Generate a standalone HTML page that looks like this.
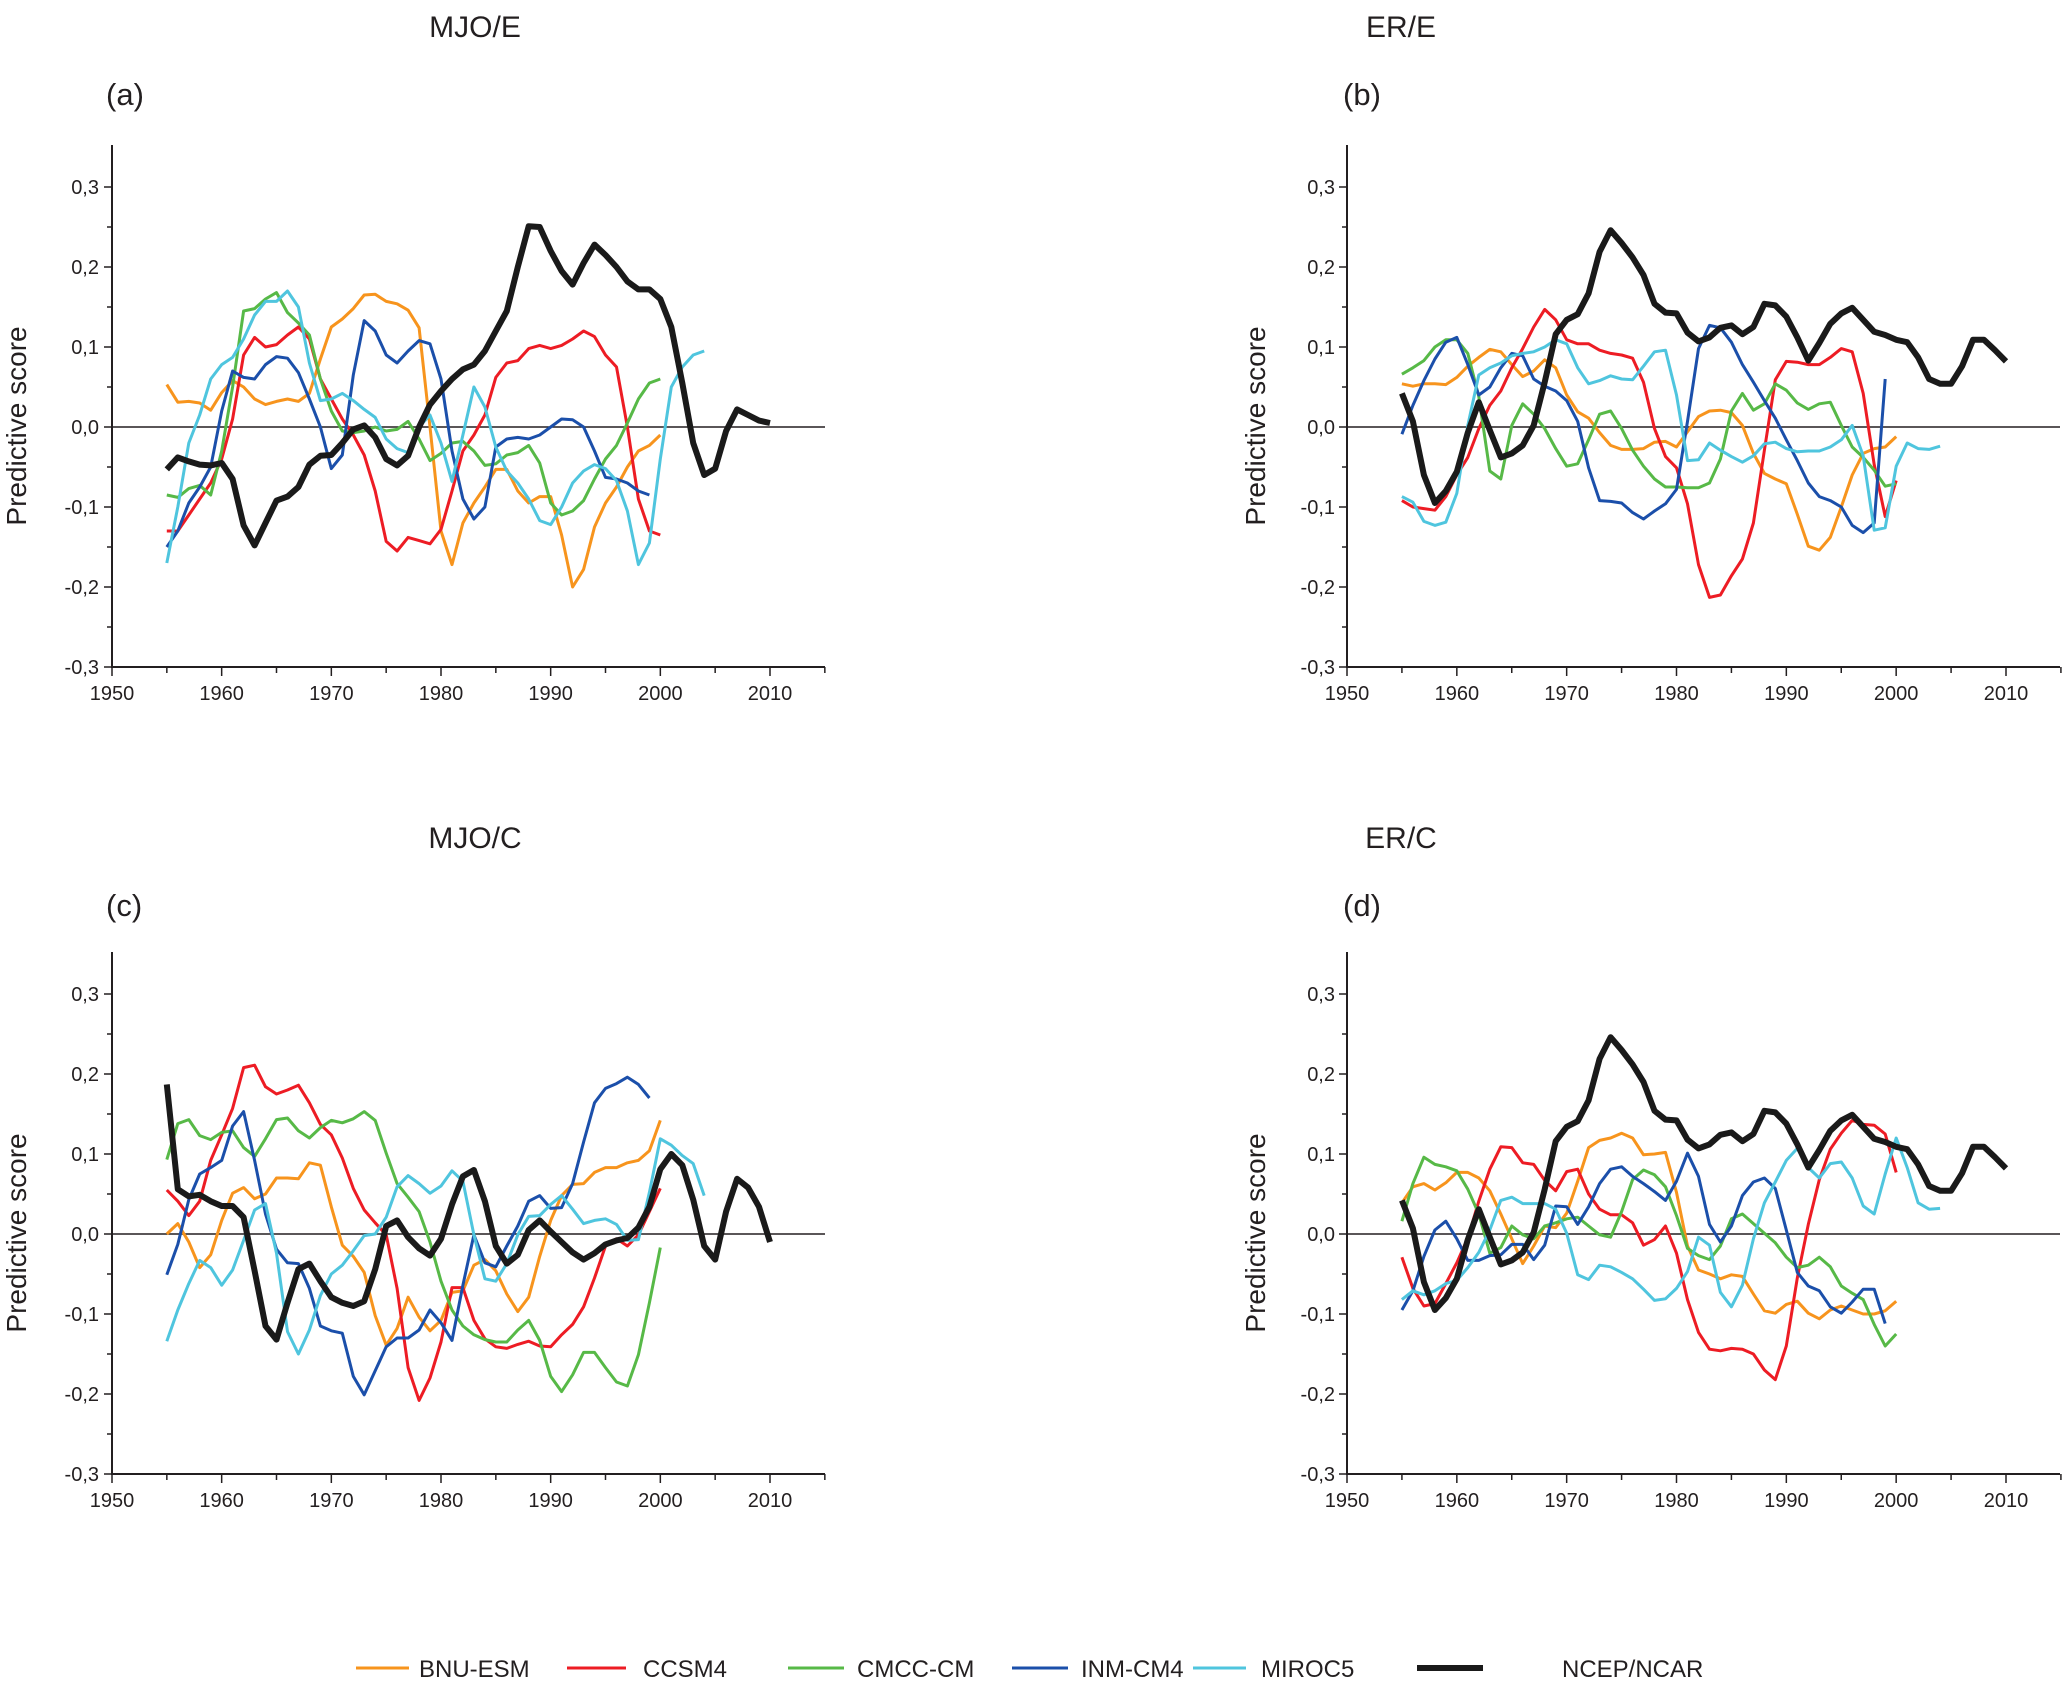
<!DOCTYPE html>
<html><head><meta charset="utf-8">
<style>
html,body{margin:0;padding:0;background:#fff;}
svg{display:block;font-family:"Liberation Sans",sans-serif;}
</style></head>
<body>
<svg id="chart" width="2067" height="1691" viewBox="0 0 2067 1691" xmlns="http://www.w3.org/2000/svg"></svg>
<script>
const panelTitles=["MJO/E","ER/E","MJO/C","ER/C"];
const panelLetters=["(a)","(b)","(c)","(d)"];
const seriesNames=["BNU-ESM","CCSM4","CMCC-CM","INM-CM4","MIROC5","NCEP/NCAR"];
const yTicks=[-0.3,-0.2,-0.1,0.0,0.1,0.2,0.3];
const yTickLabels=["-0,3","-0,2","-0,1","0,0","0,1","0,2","0,3"];
const xTicks=[1950,1960,1970,1980,1990,2000,2010];
const startYear=1955;
// values x100, yearly from 1955
const aBNU=[5.3,3.1,3.2,3.0,2.1,4.3,5.8,5.0,3.5,2.8,3.2,3.5,3.2,4.2,8.5,12.5,13.5,14.8,16.5,16.6,15.7,15.4,14.6,12.4,0,-13,-17.2,-12,-9.5,-7.5,-5.3,-5.3,-8,-9.5,-8.7,-8.7,-13.5,-20,-17.8,-12.5,-9.5,-7.5,-5,-3,-2.3,-1];
const aCCSM=[-13,-13,-11,-9,-7,-4,1,9,11.2,10,10.3,11.5,12.5,11,6,3.5,1,-1,-3.5,-8,-14.3,-15.5,-13.8,-14.2,-14.6,-12.8,-8,-3,-1,1.5,6.2,8,8.3,9.8,10.2,9.8,10.2,11,12,11.3,9,7.5,0,-9,-13,-13.5];
const aCMCC=[-8.5,-8.8,-7.7,-7.3,-8.5,-3,5,14.5,14.8,16,16.8,14.3,13,11.5,6,2,-0.5,-0.7,-0.5,0,-0.5,-0.3,0.7,-1.5,-4.2,-3.3,-2,-1.8,-3,-4.8,-4.6,-3.5,-3.2,-2.3,-4.5,-9.5,-11,-10.5,-9.2,-6.5,-4,-2.3,0.5,3.5,5.5,6];
const aINM=[-15,-13,-9.5,-7.5,-5,2,7,6.2,6,7.8,8.8,8.6,6.8,3.5,0,-5.2,-3.5,6.5,13.3,12,9,8,9.5,10.8,10.4,6,-3,-9,-11.5,-10,-2.5,-1.5,-1.3,-1.5,-1,0,1,0.9,0,-3,-6.3,-6.5,-7,-8,-8.5];
const aMIROC=[-17,-10,-2,1.5,6,7.8,8.7,11,14,15.7,15.7,17,15,8,3.3,3.5,4.2,3.3,2.2,1.2,-1.5,-2.7,-3.2,0,1.5,-2,-6.8,-1,5,2.5,-2.5,-5.5,-7,-9,-11.7,-12.2,-10,-7,-5.5,-4.7,-5.2,-6.7,-10.5,-17.2,-14.5,-4,5,7.5,9,9.5];
const aNCEP=[-5.3,-3.8,-4.3,-4.7,-4.8,-4.5,-6.5,-12.3,-14.8,-12,-9.2,-8.7,-7.5,-4.7,-3.6,-3.5,-2,-0.3,0.2,-1.3,-4,-4.8,-3.6,0,2.8,4.5,6,7.2,7.8,9.5,12,14.5,20,25.1,25,22,19.5,17.8,20.5,22.8,21.5,20,18.2,17.2,17.2,16,12.5,5.5,-2,-6,-5.2,-0.5,2.2,1.5,0.8,0.5];
const bBNU=[5.4,5.1,5.4,5.4,5.3,6.2,7.6,8.7,9.7,9.4,7.8,6.3,7,8.4,7.4,4,1.9,1.1,-0.7,-2.3,-2.8,-2.8,-2.7,-1.9,-1.8,-2.5,-0.6,1.3,2,2.1,1.8,0.2,-3.3,-5.8,-6.5,-7.1,-10.9,-14.9,-15.4,-13.8,-10,-6,-3.3,-2.7,-2.5,-1.2];
const bCCSM=[-9.2,-10,-10.2,-10.4,-8.7,-6,-3.8,-0.2,2.7,4.5,7.4,9.8,12.5,14.7,13.4,10.9,10.4,10.4,9.6,9.2,9,8.6,5.6,-0.2,-3.7,-5.1,-9.6,-17.2,-21.3,-21,-18.6,-16.5,-12,-2.9,5.9,8.2,8.1,7.8,7.8,8.7,9.8,9.4,4.2,-4.7,-11.2,-6.7];
const bCMCC=[6.6,7.4,8.3,10,10.9,10.9,9.2,3.8,-5.5,-6.5,0.2,2.9,1.6,-0.2,-2.7,-4.9,-4.6,-1.6,1.6,2,-0.2,-2.9,-4.9,-6.5,-7.5,-7.5,-7.6,-7.6,-7,-4,2,4.2,2.1,2.9,5.4,4.6,3,2.2,2.9,3.1,0.2,-2.5,-3.8,-5.4,-7.4,-7.1];
const bINM=[-0.9,2.7,5.8,8.5,10.6,11.2,7.8,4,5,7.4,9.2,8.9,6,5.1,4.5,3.3,0.7,-5.1,-9.2,-9.3,-9.5,-10.7,-11.5,-10.5,-9.6,-7.8,0.7,9.8,12.7,12.4,10.6,7.8,5.6,3.3,1.1,-1.6,-4.2,-7,-8.7,-9.2,-10,-12.3,-13.2,-12,6];
const bMIROC=[-8.7,-9.4,-11.8,-12.3,-11.9,-8.3,0.2,6.5,7.4,8,8.9,9.2,9.4,10,10.9,10.4,7.4,5.4,5.8,6.4,6,5.9,7.6,9.4,9.6,4,-4.2,-4.1,-2,-2.9,-3.7,-4.4,-3.6,-2.1,-1.9,-2.7,-3.1,-3,-3,-2.5,-1.6,0.2,-3.6,-12.9,-12.6,-4.9,-2,-2.7,-2.8,-2.4];
const bNCEP=[4.2,0.7,-6,-9.5,-8,-5.6,-0.7,3.1,-0.4,-3.8,-3.3,-2.3,0.2,5.6,11.6,13.4,14.1,16.7,21.9,24.6,23,21.2,19,15.4,14.3,14.2,11.8,10.7,11.2,12.4,12.7,11.6,12.5,15.4,15.2,13.8,11.2,8.3,10.5,12.9,14.2,14.9,13.4,11.9,11.5,10.9,10.6,8.7,6,5.4,5.4,7.6,10.9,10.9,9.6,8.2];
const cBNU=[0,1.3,-1,-4.2,-2.6,1.7,5.1,5.8,4.4,5,7,7,6.9,8.9,8.6,3.4,-1.4,-2.8,-4.8,-10.2,-13.9,-11.8,-7.9,-10.4,-12.1,-10.8,-7.3,-7.1,-3.9,-3.2,-4.6,-7.5,-9.7,-7.9,-2.8,1.7,4.8,6.2,6.3,7.7,8.3,8.3,8.9,9.2,10.4,14.2];
const cCCSM=[5.5,4.1,2.3,4.1,9.2,12.4,15.7,20.8,21.1,18.4,17.5,18,18.6,16.4,13.7,12.4,9.5,5.7,3,1.4,-0.1,-6.8,-16.7,-20.8,-18,-13.5,-6.7,-6.7,-10.8,-13.1,-14.1,-14.3,-13.8,-13.4,-14,-14.1,-12.6,-11.3,-9.1,-5.5,-1.5,-0.6,-1.5,-0.1,2.8,5.7];
const cCMCC=[9.3,13.8,14.3,12.3,11.8,12.7,12.9,10.8,9.7,11.9,14.3,14.5,12.9,12,13.3,14.2,13.9,14.4,15.3,14.2,10.1,6.3,4.6,2.8,-1,-5.9,-9.5,-11.5,-12.6,-13.2,-13.5,-13.5,-12,-10.8,-13.3,-17.8,-19.7,-17.6,-14.8,-14.8,-16.7,-18.5,-19,-15.1,-8.6,-1.7];
const cINM=[-5.1,-1.3,4.3,7.5,8.3,9.2,13.5,15.3,9.2,2.5,-1.9,-3.6,-3.7,-6.8,-11.5,-12.1,-12.4,-17.8,-20.1,-17.1,-14.1,-13,-13,-12,-9.5,-11.1,-13.3,-6.4,-0.1,-3.6,-4.1,-1.5,1,4.1,4.8,3.2,3.3,6.3,11.5,16.4,18.2,18.8,19.6,18.7,17];
const cMIROC=[-13.4,-9.5,-6.2,-3.3,-4.2,-6.4,-4.5,-0.8,3,3.8,-2.4,-12.2,-15,-12,-7.7,-5,-3.9,-2.1,-0.2,0,2.1,5.9,7.3,6.3,5.1,6,7.9,6.6,-0.1,-5.6,-5.9,-3.7,-0.1,2.2,2.3,3.7,4.8,3.1,1.3,1.7,1.9,1.2,-0.8,-0.7,5.2,11.9,11.1,9.8,8.8,4.8];
const cNCEP=[18.7,5.6,4.7,4.9,4.1,3.5,3.5,2.1,-4.6,-11.5,-13.2,-8.6,-4.4,-3.7,-5.9,-7.9,-8.6,-9,-8.4,-4.4,1,1.7,-0.4,-1.8,-2.7,-0.6,3.7,7.2,8,4.1,-1.5,-3.7,-2.6,0.5,1.7,0.3,-1,-2.3,-3.2,-2.4,-1.3,-0.8,-0.5,0.8,3.4,8.1,10,8.6,4.3,-1.5,-3.2,2.8,6.9,5.8,3.4,-1];
const dBNU=[3.9,5.9,6.3,5.5,6.4,7.7,7.7,7,5.4,2.5,-0.6,-3.7,-1.5,1,0.8,2.6,6.6,10.8,11.7,12,12.6,12,9.9,10,10.2,5.2,-1.5,-4.5,-5,-5.6,-5.1,-5.3,-7.5,-9.6,-9.9,-8.8,-8.4,-9.9,-10.6,-9.5,-9,-9.5,-10,-10,-9.6,-8.4];
const dCCSM=[-2.9,-6.8,-9,-8.7,-6.2,-3.6,-0.5,4.1,8.1,10.9,10.8,8.9,8.7,6.7,5.4,7.8,8.1,5,3.1,2.4,2.4,1.4,-1.4,-0.7,1,-2.4,-8.2,-12.3,-14.4,-14.6,-14.3,-14.4,-15,-17,-18.2,-14,-5.5,1.2,6.8,10.6,12.6,14.2,13.7,13.6,12.5,7.7];
const dCMCC=[1.6,6.3,9.6,8.7,8.4,7.9,5.6,2.5,-2.4,-1.7,1,-0.1,-0.6,1,1.4,1.9,2.1,1,-0.1,-0.4,2.8,6.8,8,7.4,5.9,2.3,-1.8,-2.7,-3.2,-1.5,1.9,2.5,1.3,0.1,-1.1,-2.9,-4.2,-3.9,-2.9,-4.1,-6.5,-7.4,-8.2,-11.3,-14,-12.5];
const dINM=[-9.5,-7.1,-2.8,0.5,1.6,-0.6,-3.3,-3.3,-2.7,-2.6,-1.3,-1.3,-3.2,-1.4,3.5,3.4,1.2,3.4,6.3,8.1,8.4,7.2,6.3,5.3,4.2,6.6,10.1,7.2,1.2,-1,1,4.8,6.5,7,5.7,0.5,-4.8,-6.5,-7.1,-9.1,-9.9,-8.5,-6.9,-6.9,-11.2];
const dMIROC=[-8.2,-7.1,-7.6,-7.1,-6.2,-5.8,-4.2,-2.3,0.5,4.2,4.6,3.8,3.8,3.8,3.1,0.1,-5.1,-5.7,-3.9,-4.1,-4.8,-5.6,-6.9,-8.3,-8.1,-6.8,-4.7,-0.4,-1.4,-7.3,-9.1,-6.4,-0.6,3.9,6.5,9.2,10.7,8.3,7,8.8,9,7,3.5,2.5,7.5,12,8.3,3.9,3.1,3.2];
const dNCEP=bNCEP;
const panelData=[[aBNU,aCCSM,aCMCC,aINM,aMIROC,aNCEP],[bBNU,bCCSM,bCMCC,bINM,bMIROC,bNCEP],[cBNU,cCCSM,cCMCC,cINM,cMIROC,cNCEP],[dBNU,dCCSM,dCMCC,dINM,dMIROC,dNCEP]];

const colors=["#f7941d","#ed1c24","#57b947","#1b4faa","#4fc5de","#1a1a1a"];
const widths=[3,3,3,3,3,6];
const NS="http://www.w3.org/2000/svg";
const svg=document.getElementById("chart");
function mk(tag,attrs,parent){const e=document.createElementNS(NS,tag);for(const k in attrs)e.setAttribute(k,attrs[k]);(parent||svg).appendChild(e);return e;}

const layouts=[
 {x0:112,x1:825,yTop:145,y03:187,yM03:667,ylx:16,tickRight:99,titleX:475,titleY:37,letX:106,letY:105},
 {x0:1347,x1:2060,yTop:145,y03:187,yM03:667,ylx:1255,tickRight:1335,titleX:1401,titleY:37,letX:1343,letY:105},
 {x0:112,x1:825,yTop:952,y03:994,yM03:1474,ylx:16,tickRight:99,titleX:475,titleY:848,letX:106,letY:916},
 {x0:1347,x1:2060,yTop:952,y03:994,yM03:1474,ylx:1255,tickRight:1335,titleX:1401,titleY:848,letX:1343,letY:916}
];

layouts.forEach((L,p)=>{
  const g=mk("g",{});
  
  
  const pxYear=(L.x0===112?658:659)/60;
  const xs=yr=>L.x0+(yr-1950)*pxYear;
  const ys=v=>L.yM03+(v+0.3)*(L.y03-L.yM03)/0.6;
  const yBot=ys(-0.3);
  const t=mk("text",{x:L.titleX,y:L.titleY,"font-size":30,"text-anchor":"middle",fill:"#231f20"},g);
  t.textContent=panelTitles[p];
  
  
  const lt=mk("text",{x:L.letX,y:L.letY,"font-size":31,fill:"#231f20"},g);
  lt.textContent=panelLetters[p];
  
  
  const cy=(L.yTop+yBot)/2+20;
  const yl=mk("text",{x:L.ylx+10,y:cy,"font-size":28,"text-anchor":"middle",fill:"#231f20",transform:`rotate(-90 ${L.ylx+10} ${cy})`},g);
  yl.textContent="Predictive score";
  
  
  const ax=mk("path",{d:`M${L.x0} ${L.yTop}V${yBot}H${L.x1}`,stroke:"#231f20","stroke-width":2,fill:"none"},g);
  
  
  for(let i=0;i<=12;i++){
    const v=-0.3+i*0.05, y=ys(v), major=i%2===0;
    mk("line",{x1:L.x0-(major?8:5),x2:L.x0,y1:y,y2:y,stroke:"#231f20","stroke-width":1.5},g);
  }
  yTicks.forEach((v,i)=>{
    const tx=mk("text",{x:L.tickRight,y:ys(v)+7,"font-size":20,"text-anchor":"end",fill:"#231f20"},g);
    tx.textContent=yTickLabels[i];
    
    
  });
  for(let yr=1950;yr<=2015;yr+=5){
    const major=yr%10===0;
    mk("line",{x1:xs(yr),x2:xs(yr),y1:yBot,y2:yBot+(major?9:6),stroke:"#231f20","stroke-width":1.5},g);
  }
  xTicks.forEach(yr=>{
    const tx=mk("text",{x:xs(yr),y:yBot+33,"font-size":20,"text-anchor":"middle",fill:"#231f20"},g);
    tx.textContent=String(yr);
    
    
  });
  const zl=mk("line",{x1:L.x0,x2:L.x1,y1:ys(0),y2:ys(0),stroke:"#231f20","stroke-width":1.5},g);
  
  
  panelData[p].forEach((arr,si)=>{
    const d=arr.map((v,i)=>(i?"L":"M")+xs(startYear+i).toFixed(1)+" "+ys(v/100).toFixed(1)).join("");
    const pl=mk("path",{d:d,stroke:colors[si],"stroke-width":widths[si],fill:"none","stroke-linejoin":"round"},g);
    
    
  });
});

const legLineX=[356,567,788,1012,1193,1417];
const legLineW=[53,59,56,56,53,66];
const legTextX=[419,643,857,1081,1261,1562];
const lg=mk("g",{});


seriesNames.forEach((n,i)=>{
  const e=mk("g",{},lg);
  
  
  mk("line",{x1:legLineX[i],x2:legLineX[i]+legLineW[i],y1:1668,y2:1668,stroke:colors[i],"stroke-width":widths[i]},e);
  const t=mk("text",{x:legTextX[i],y:1677,"font-size":24,fill:"#231f20"},e);
  t.textContent=n;
});
</script>
</body></html>
